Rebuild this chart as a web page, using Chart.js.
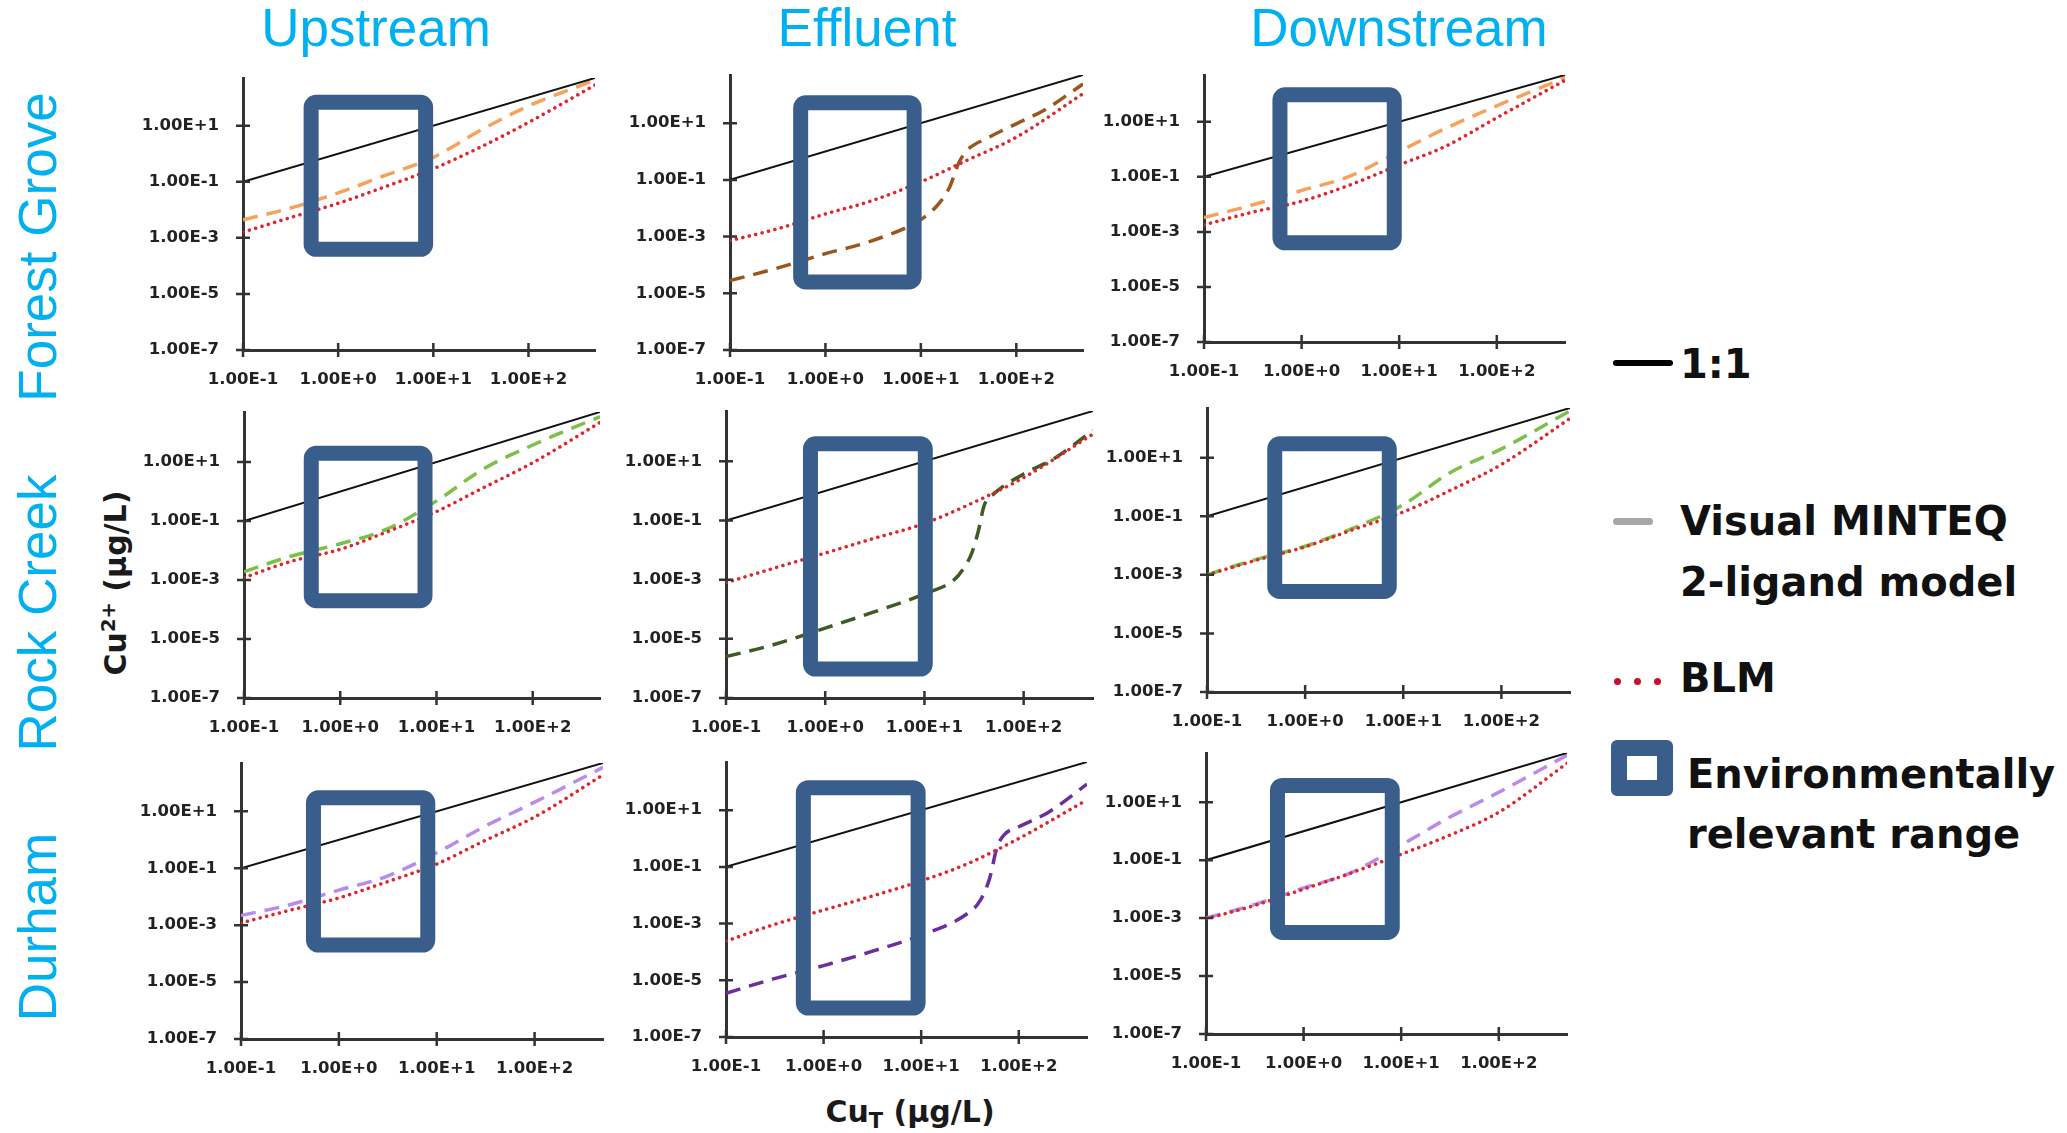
<!DOCTYPE html>
<html>
<head>
<meta charset="utf-8">
<title>Cu2+ vs CuT</title>
<script src="https://cdn.jsdelivr.net/npm/chart.js@4.4.1/dist/chart.umd.min.js"></script>
<style>
  html, body { margin: 0; padding: 0; background: #fff; }
  #figure { position: relative; width: 2067px; height: 1133px; overflow: hidden; }
  canvas.panel { position: absolute; }
  .col-title { position: absolute; top: 1px; transform: translateX(-50%); font: 53px/1 'Liberation Sans', Arial, sans-serif; color: #00B0F0; white-space: nowrap; }
  .row-title { position: absolute; left: 37px; transform: translate(-50%, -50%) rotate(-90deg); font: 53px/1 'Liberation Sans', Arial, sans-serif; color: #00B0F0; white-space: nowrap; }
  .axis-title { position: absolute; font: bold 30px/1 'DejaVu Sans', sans-serif; color: #1a1a1a; white-space: nowrap; }
  .axis-title sup { font-size: 0.65em; vertical-align: 0.55em; line-height: 0; }
  .axis-title sub { font-size: 0.7em; vertical-align: -0.3em; line-height: 0; }
  #y-title { left: 116px; top: 583px; transform: translate(-50%, -50%) rotate(-90deg); }
  #x-title { left: 910px; top: 1097px; transform: translateX(-50%); }
  .legend-text { position: absolute; font: bold 40px/1 'DejaVu Sans', sans-serif; color: #111; white-space: nowrap; }
  .legend-mark { position: absolute; }
</style>
</head>
<body>
<div id="figure">
  <div id="y-title" class="axis-title">Cu<sup>2+</sup> (µg/L)</div>
  <div id="x-title" class="axis-title">Cu<sub>T</sub> (µg/L)</div>

  <!-- legend on the right -->
  <div class="legend-mark" style="left:1613px; top:360px; width:60px; height:6px; background:#000; border-radius:3px;"></div>
  <div class="legend-text" style="left:1680px; top:344px;">1:1</div>

  <div class="legend-mark" style="left:1613px; top:518px; width:40px; height:7px; background:#A6A6A6; border-radius:4px;"></div>
  <div class="legend-text" style="left:1680px; top:491px; line-height:61px;">Visual MINTEQ<br>2-ligand model</div>

  <div class="legend-mark" style="left:1614px; top:678px; width:7px; height:7px; background:#C8102E; border-radius:50%;"></div>
  <div class="legend-mark" style="left:1634px; top:678px; width:7px; height:7px; background:#C8102E; border-radius:50%;"></div>
  <div class="legend-mark" style="left:1654px; top:678px; width:7px; height:7px; background:#C8102E; border-radius:50%;"></div>
  <div class="legend-text" style="left:1680px; top:658px;">BLM</div>

  <div class="legend-mark" style="left:1611px; top:740px; width:62px; height:56px; box-sizing:border-box; border:16px solid #3A5E8C; border-radius:6px;"></div>
  <div class="legend-text" style="left:1687px; top:744px; line-height:60px;">Environmentally<br>relevant range</div>
</div>

<script>
// ---- values ----

const columnTitles = ['Upstream', 'Effluent', 'Downstream'];
const rowTitles = ['Forest Grove', 'Rock Creek', 'Durham'];

const xTickValues = [0.1, 1, 10, 100];
const yTickValues = [1e-7, 1e-5, 1e-3, 1e-1, 1e1];

// total copper (µg/L), shared by the smooth curves
const cuTotal = [0.1, 0.3, 1, 3, 10, 30, 100, 500];
const oneToOne = [0.1, 500];

// BLM, free Cu2+ (µg/L)
const blmForestUp   = [1.6e-3, 5.0e-3, 0.017, 0.063, 0.29, 1.6, 13, 280];
const blmForestEff  = [7.2e-4, 1.8e-3, 6.3e-3, 0.018, 0.085, 0.48, 3.2, 110];
const blmForestDown = [1.8e-3, 5.0e-3, 0.013, 0.048, 0.27, 1.3, 14, 320];
const blmRockUp     = [1.2e-3, 4.2e-3, 0.011, 0.042, 0.21, 1.3, 9.5, 220];
const blmRockEff    = [7.9e-4, 2.4e-3, 7.9e-3, 0.024, 0.079, 0.38, 2.8, 83];
const blmRockDown   = [1.0e-3, 3.0e-3, 9.1e-3, 0.034, 0.14, 0.76, 5.9, 220];
const blmDurhamUp   = [1.2e-3, 3.2e-3, 9.1e-3, 0.032, 0.14, 0.89, 6.3, 190];
const blmDurhamEff  = [2.4e-4, 8.9e-4, 3.0e-3, 8.9e-3, 0.032, 0.13, 1.0, 23];
const blmDurhamDown = [9.5e-4, 2.6e-3, 0.010, 0.035, 0.16, 0.68, 4.5, 220];

// Visual MINTEQ 2-ligand model, free Cu2+ (µg/L)
const minteqForestUp   = [4.4e-3, 0.011, 0.040, 0.16, 0.74, 6.3, 50, 420];
const minteqForestDown = [3.3e-3, 9.1e-3, 0.032, 0.10, 0.83, 5.8, 38, 400];
const minteqRockUp     = [1.9e-3, 6.3e-3, 0.017, 0.052, 0.48, 5.6, 38, 350];
const minteqRockDown   = [1.0e-3, 3.2e-3, 9.5e-3, 0.038, 0.25, 3.1, 20, 400];
const minteqDurhamUp   = [2.2e-3, 5.0e-3, 0.017, 0.050, 0.35, 2.8, 21, 350];
const minteqDurhamDown = [1.0e-3, 2.8e-3, 0.011, 0.036, 0.33, 2.8, 22, 420];

// effluent curves jump steeply, so they get their own x points
const cuTotalForestEff = [0.1, 0.3, 1, 3, 10, 15, 20, 25, 30, 50, 100, 200, 500];
const minteqForestEff  = [2.8e-5, 7.4e-5, 2.5e-4, 6.9e-4, 4.0e-3, 0.013, 0.055, 0.40, 1.05, 3.0, 9.5, 30, 240];
const cuTotalRockEff   = [0.1, 0.3, 1, 3, 10, 20, 25, 30, 35, 40, 50, 100, 200, 500];
const minteqRockEff    = [2.5e-6, 6.3e-6, 2.3e-5, 7.8e-5, 3.3e-4, 1.0e-3, 2.5e-3, 7.9e-3, 0.045, 0.32, 0.79, 3.7, 12, 110];
const cuTotalDurhamEff = [0.1, 0.3, 1, 3, 10, 30, 40, 50, 60, 70, 100, 200, 500];
const minteqDurhamEff  = [3.5e-6, 1.1e-5, 3.3e-5, 1.0e-4, 3.9e-4, 2.3e-3, 6.3e-3, 0.037, 0.50, 1.3, 2.6, 8.3, 83];

// environmentally relevant range: [CuT min, CuT max, Cu2+ min, Cu2+ max]
const rangeForestUp   = [0.52, 8.3, 3.9e-4, 68];
const rangeForestEff  = [0.55, 8.5, 2.5e-5, 52];
const rangeForestDown = [0.60, 8.9, 4.0e-4, 95];
const rangeRockUp     = [0.50, 7.6, 2.0e-4, 20];
const rangeRockEff    = [0.71, 10.2, 9.5e-7, 39];
const rangeRockDown   = [0.49, 7.2, 2.7e-4, 30];
const rangeDurhamUp   = [0.55, 8.1, 2.0e-4, 30];
const rangeDurhamEff  = [0.62, 9.3, 1.05e-6, 62];
const rangeDurhamDown = [0.54, 8.1, 3.2e-4, 38];

// ---- layout and styles ----

// plot area of each panel in page pixels: [left, top, right, bottom]
const plotAreas = [
    [243, 78, 595, 350], [730, 75, 1083, 350], [1204, 75, 1565, 342],
    [244, 412, 600, 698], [726, 411, 1093, 698], [1207, 408, 1570, 692],
    [241, 763, 603, 1039], [726, 762, 1087, 1037], [1206, 753, 1567, 1034]
];
const columnCenters = [376, 867, 1399];
const rowCenters = [247, 613, 927];

const Y_AXIS_W = 110;
const X_AXIS_H = 48;
const PAD_TOP = 12;
const PAD_RIGHT = 14;
const AXIS_COLOR = '#333333';
const BOX_COLOR = '#3A5E8C';
const BLM_COLOR = '#E0252D';
const TICK_FONT = { family: 'DejaVu Sans', weight: 'bold', size: 16.5 };

const panels = [
    { x: cuTotal, minteq: minteqForestUp, blm: blmForestUp, range: rangeForestUp, color: '#F5A25D' },
    { x: cuTotalForestEff, minteq: minteqForestEff, blm: blmForestEff, range: rangeForestEff, color: '#9A561F' },
    { x: cuTotal, minteq: minteqForestDown, blm: blmForestDown, range: rangeForestDown, color: '#F5A25D' },
    { x: cuTotal, minteq: minteqRockUp, blm: blmRockUp, range: rangeRockUp, color: '#7DBF4B' },
    { x: cuTotalRockEff, minteq: minteqRockEff, blm: blmRockEff, range: rangeRockEff, color: '#3E5B24' },
    { x: cuTotal, minteq: minteqRockDown, blm: blmRockDown, range: rangeRockDown, color: '#7DBF4B' },
    { x: cuTotal, minteq: minteqDurhamUp, blm: blmDurhamUp, range: rangeDurhamUp, color: '#B98BEA' },
    { x: cuTotalDurhamEff, minteq: minteqDurhamEff, blm: blmDurhamEff, range: rangeDurhamEff, color: '#6A2E9E' },
    { x: cuTotal, minteq: minteqDurhamDown, blm: blmDurhamDown, range: rangeDurhamDown, color: '#B98BEA' }
];

function toPoints(xs, ys) {
    return xs.map((x, i) => ({ x: x, y: ys[i] }));
}

function formatSci(value) {
    return Number(value).toExponential(2).toUpperCase();
}

/**
 * Crossing tick marks (Excel style) and the relevant-range box,
 * both placed through the chart's own scales.
 */
const panelDecor = {
    id: 'panelDecor',
    afterDatasetsDraw(chart, args, opts) {
        const ctx = chart.ctx;
        const area = chart.chartArea;
        const xs = chart.scales.x;
        const ys = chart.scales.y;

        ctx.save();
        ctx.strokeStyle = AXIS_COLOR;
        ctx.lineWidth = 2.5;
        ctx.beginPath();
        xTickValues.forEach(v => {
            const px = xs.getPixelForValue(v);
            ctx.moveTo(px, area.bottom - 7);
            ctx.lineTo(px, area.bottom + 7);
        });
        yTickValues.forEach(v => {
            const py = ys.getPixelForValue(v);
            ctx.moveTo(area.left - 7, py);
            ctx.lineTo(area.left + 7, py);
        });
        ctx.stroke();

        const [x0, x1, y0, y1] = opts.range;
        const left = xs.getPixelForValue(x0);
        const right = xs.getPixelForValue(x1);
        const top = ys.getPixelForValue(y1);
        const bottom = ys.getPixelForValue(y0);
        ctx.strokeStyle = BOX_COLOR;
        ctx.lineWidth = 15;
        ctx.lineJoin = 'round';
        ctx.beginPath();
        if (ctx.roundRect) {
            ctx.roundRect(left, top, right - left, bottom - top, 5);
        } else {
            ctx.rect(left, top, right - left, bottom - top);
        }
        ctx.stroke();
        ctx.restore();
    }
};

function makePanel(index, panel) {
    const [left, top, right, bottom] = plotAreas[index];
    const canvas = document.createElement('canvas');
    canvas.className = 'panel';
    canvas.width = right - left + Y_AXIS_W + PAD_RIGHT;
    canvas.height = bottom - top + PAD_TOP + X_AXIS_H;
    canvas.style.left = (left - Y_AXIS_W) + 'px';
    canvas.style.top = (top - PAD_TOP) + 'px';
    document.getElementById('figure').appendChild(canvas);

    const axisCommon = {
        type: 'logarithmic',
        grid: { drawOnChartArea: false, drawTicks: false, color: 'rgba(0,0,0,0)' },
        border: { display: true, color: AXIS_COLOR, width: 3 }
    };

    new Chart(canvas, {
        type: 'line',
        data: {
            datasets: [
                {
                    label: 'BLM',
                    data: toPoints(cuTotal, panel.blm),
                    borderColor: BLM_COLOR,
                    borderWidth: 3.5,
                    borderDash: [0.1, 6.5],
                    borderCapStyle: 'round'
                },
                {
                    label: '1:1',
                    data: toPoints(oneToOne, oneToOne),
                    borderColor: '#111111',
                    borderWidth: 2
                },
                {
                    label: 'Visual MINTEQ 2-ligand model',
                    data: toPoints(panel.x, panel.minteq),
                    borderColor: panel.color,
                    borderWidth: 3.5,
                    borderDash: [15, 9]
                }
            ]
        },
        options: {
            responsive: false,
            animation: false,
            devicePixelRatio: 1,
            layout: { padding: { top: PAD_TOP, right: PAD_RIGHT, left: 0, bottom: 0 } },
            elements: {
                point: { radius: 0 },
                line: { cubicInterpolationMode: 'monotone', fill: false }
            },
            plugins: {
                legend: { display: false },
                tooltip: { enabled: false },
                panelDecor: { range: panel.range }
            },
            scales: {
                x: Object.assign({}, axisCommon, {
                    min: 0.1,
                    max: 500,
                    afterBuildTicks: s => { s.ticks = xTickValues.map(v => ({ value: v })); },
                    // fixed axis size so every plot area lands where it should
                    afterFit: s => { s.height = X_AXIS_H; s.paddingLeft = 0; s.paddingRight = 0; },
                    ticks: { autoSkip: false, maxRotation: 0, padding: 20, color: '#222', font: TICK_FONT, callback: formatSci }
                }),
                y: Object.assign({}, axisCommon, {
                    min: 1e-7,
                    max: 500,
                    afterBuildTicks: s => { s.ticks = yTickValues.map(v => ({ value: v })); },
                    afterFit: s => { s.width = Y_AXIS_W; s.paddingTop = 0; s.paddingBottom = 0; },
                    ticks: { autoSkip: false, padding: 24, color: '#222', font: TICK_FONT, callback: formatSci }
                })
            }
        },
        plugins: [panelDecor]
    });
}

// column and row headings
const figure = document.getElementById('figure');
columnTitles.forEach((text, i) => {
    const el = document.createElement('div');
    el.className = 'col-title';
    el.style.left = columnCenters[i] + 'px';
    el.textContent = text;
    figure.appendChild(el);
});
rowTitles.forEach((text, i) => {
    const el = document.createElement('div');
    el.className = 'row-title';
    el.style.top = rowCenters[i] + 'px';
    el.textContent = text;
    figure.appendChild(el);
});

panels.forEach((panel, i) => makePanel(i, panel));
</script>
</body>
</html>
